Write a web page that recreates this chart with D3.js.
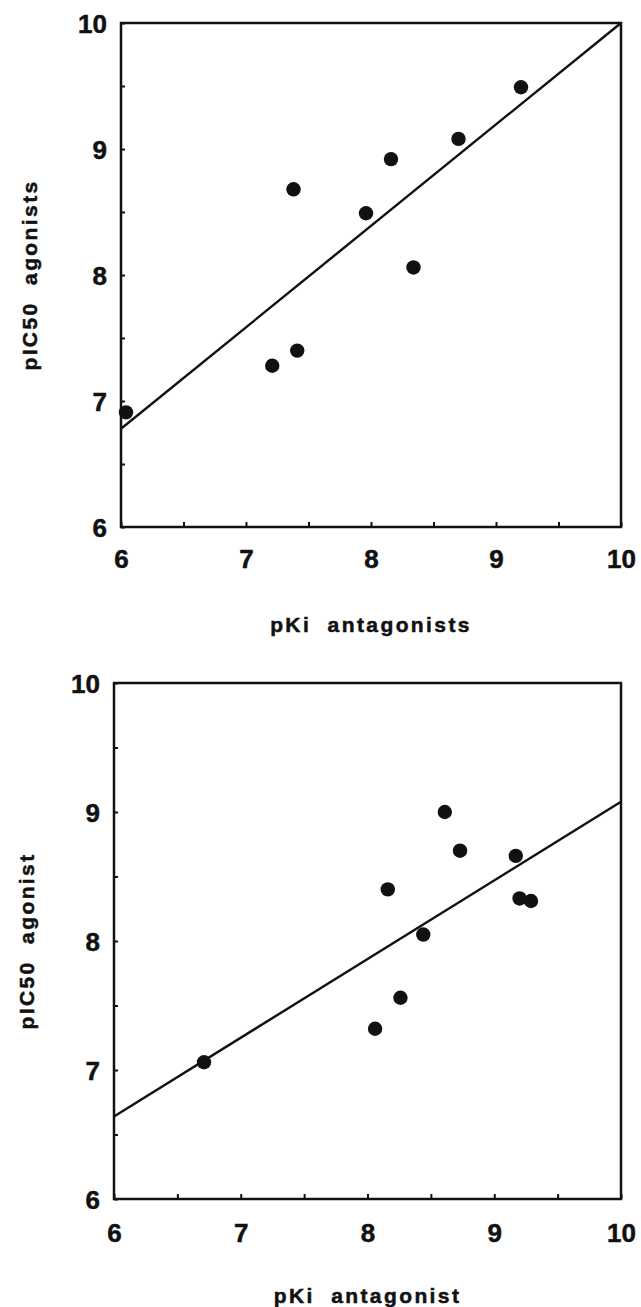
<!DOCTYPE html>
<html>
<head>
<meta charset="utf-8">
<script src="https://cdn.jsdelivr.net/npm/d3@7.9.0/dist/d3.min.js"></script>
<style>
  html, body { margin: 0; padding: 0; background: #fff; }
  svg { display: block; }
  text { font-family: "Liberation Sans", Arial, Helvetica, sans-serif; font-weight: bold; fill: #111; stroke: #111; stroke-width: 0.5px; }
</style>
</head>
<body>
<svg id="chart" width="641" height="1307"></svg>
<script>
// top panel: pKi antagonists vs pIC50 agonists
const topKi   = [6.04, 7.21, 7.41, 7.38, 7.96, 8.16, 8.34, 8.70, 9.20];
const topIC50 = [6.91, 7.28, 7.40, 8.68, 8.49, 8.92, 8.06, 9.08, 9.49];
const topFit  = [[6, 6.78], [10, 10.0]];

// bottom panel: pKi antagonist vs pIC50 agonist
const botKi   = [6.71, 8.06, 8.26, 8.44, 8.16, 8.61, 8.73, 9.17, 9.20, 9.29];
const botIC50 = [7.06, 7.32, 7.56, 8.05, 8.40, 9.00, 8.70, 8.66, 8.33, 8.31];
const botFit  = [[6, 6.64], [10, 9.08]];

const tickVals = [6, 6.5, 7, 7.5, 8, 8.5, 9, 9.5, 10];
const fmt = d => Number.isInteger(d) ? String(d) : '';

const svg = d3.select('#chart');

function panel(cfg) {
  const x = d3.scaleLinear().domain([6, 10]).range([cfg.left, cfg.right]);
  const y = d3.scaleLinear().domain([6, 10]).range([cfg.bottom, cfg.top]);
  const g = svg.append('g');

  // x axis, ticks point inward
  const xa = g.append('g')
    .attr('transform', `translate(0,${cfg.bottom})`)
    .call(d3.axisBottom(x).tickValues(tickVals).tickFormat(fmt).tickSize(-5));
  xa.select('.domain').remove();
  xa.selectAll('line').attr('stroke', '#111').attr('stroke-width', 2);
  xa.selectAll('text').attr('dy', 0).attr('y', cfg.xLabelOff)
    .style('font-size', '26px');

  // y axis
  const ya = g.append('g')
    .attr('transform', `translate(${cfg.left},0)`)
    .call(d3.axisLeft(y).tickValues(tickVals).tickFormat(fmt).tickSize(-4).tickPadding(14));
  ya.select('.domain').remove();
  ya.selectAll('line').attr('stroke', '#111').attr('stroke-width', 2);
  ya.selectAll('text').style('font-size', '26px').attr('dy', '0.36em');

  // frame
  g.append('rect')
    .attr('x', x(6)).attr('y', y(10))
    .attr('width', x(10) - x(6)).attr('height', y(6) - y(10))
    .attr('fill', 'none').attr('stroke', '#111').attr('stroke-width', 2.5);

  // fit line
  g.append('path')
    .datum(cfg.fit)
    .attr('d', d3.line().x(d => x(d[0])).y(d => y(d[1])))
    .attr('fill', 'none').attr('stroke', '#111').attr('stroke-width', 2.4);

  // points
  g.append('g').selectAll('circle')
    .data(cfg.xs.map((v, i) => [v, cfg.ys[i]]))
    .join('circle')
    .attr('cx', d => x(d[0]))
    .attr('cy', d => y(d[1]))
    .attr('r', 7.2)
    .attr('fill', '#111');

  // axis titles
  g.append('text')
    .attr('x', (cfg.left + cfg.right) / 2)
    .attr('y', cfg.xTitleY)
    .attr('text-anchor', 'middle')
    .style('font-size', '21px')
    .style('letter-spacing', '2.4px')
    .style('white-space', 'pre')
    .text(cfg.xTitle);

  g.append('text')
    .attr('transform', `translate(${cfg.yTitleX},${(cfg.top + cfg.bottom) / 2}) rotate(-90)`)
    .attr('text-anchor', 'middle')
    .style('font-size', '21px')
    .style('letter-spacing', '2.4px')
    .style('white-space', 'pre')
    .text(cfg.yTitle);
}

panel({
  left: 121, right: 621, top: 23, bottom: 527,
  xs: topKi, ys: topIC50, fit: topFit,
  xLabelOff: 41, xTitleY: 632, yTitleX: 37,
  xTitle: 'pKi  antagonists', yTitle: 'pIC50  agonists'
});

panel({
  left: 114, right: 621, top: 683, bottom: 1199,
  xs: botKi, ys: botIC50, fit: botFit,
  xLabelOff: 43, xTitleY: 1303, yTitleX: 34,
  xTitle: 'pKi  antagonist', yTitle: 'pIC50  agonist'
});
</script>
</body>
</html>
